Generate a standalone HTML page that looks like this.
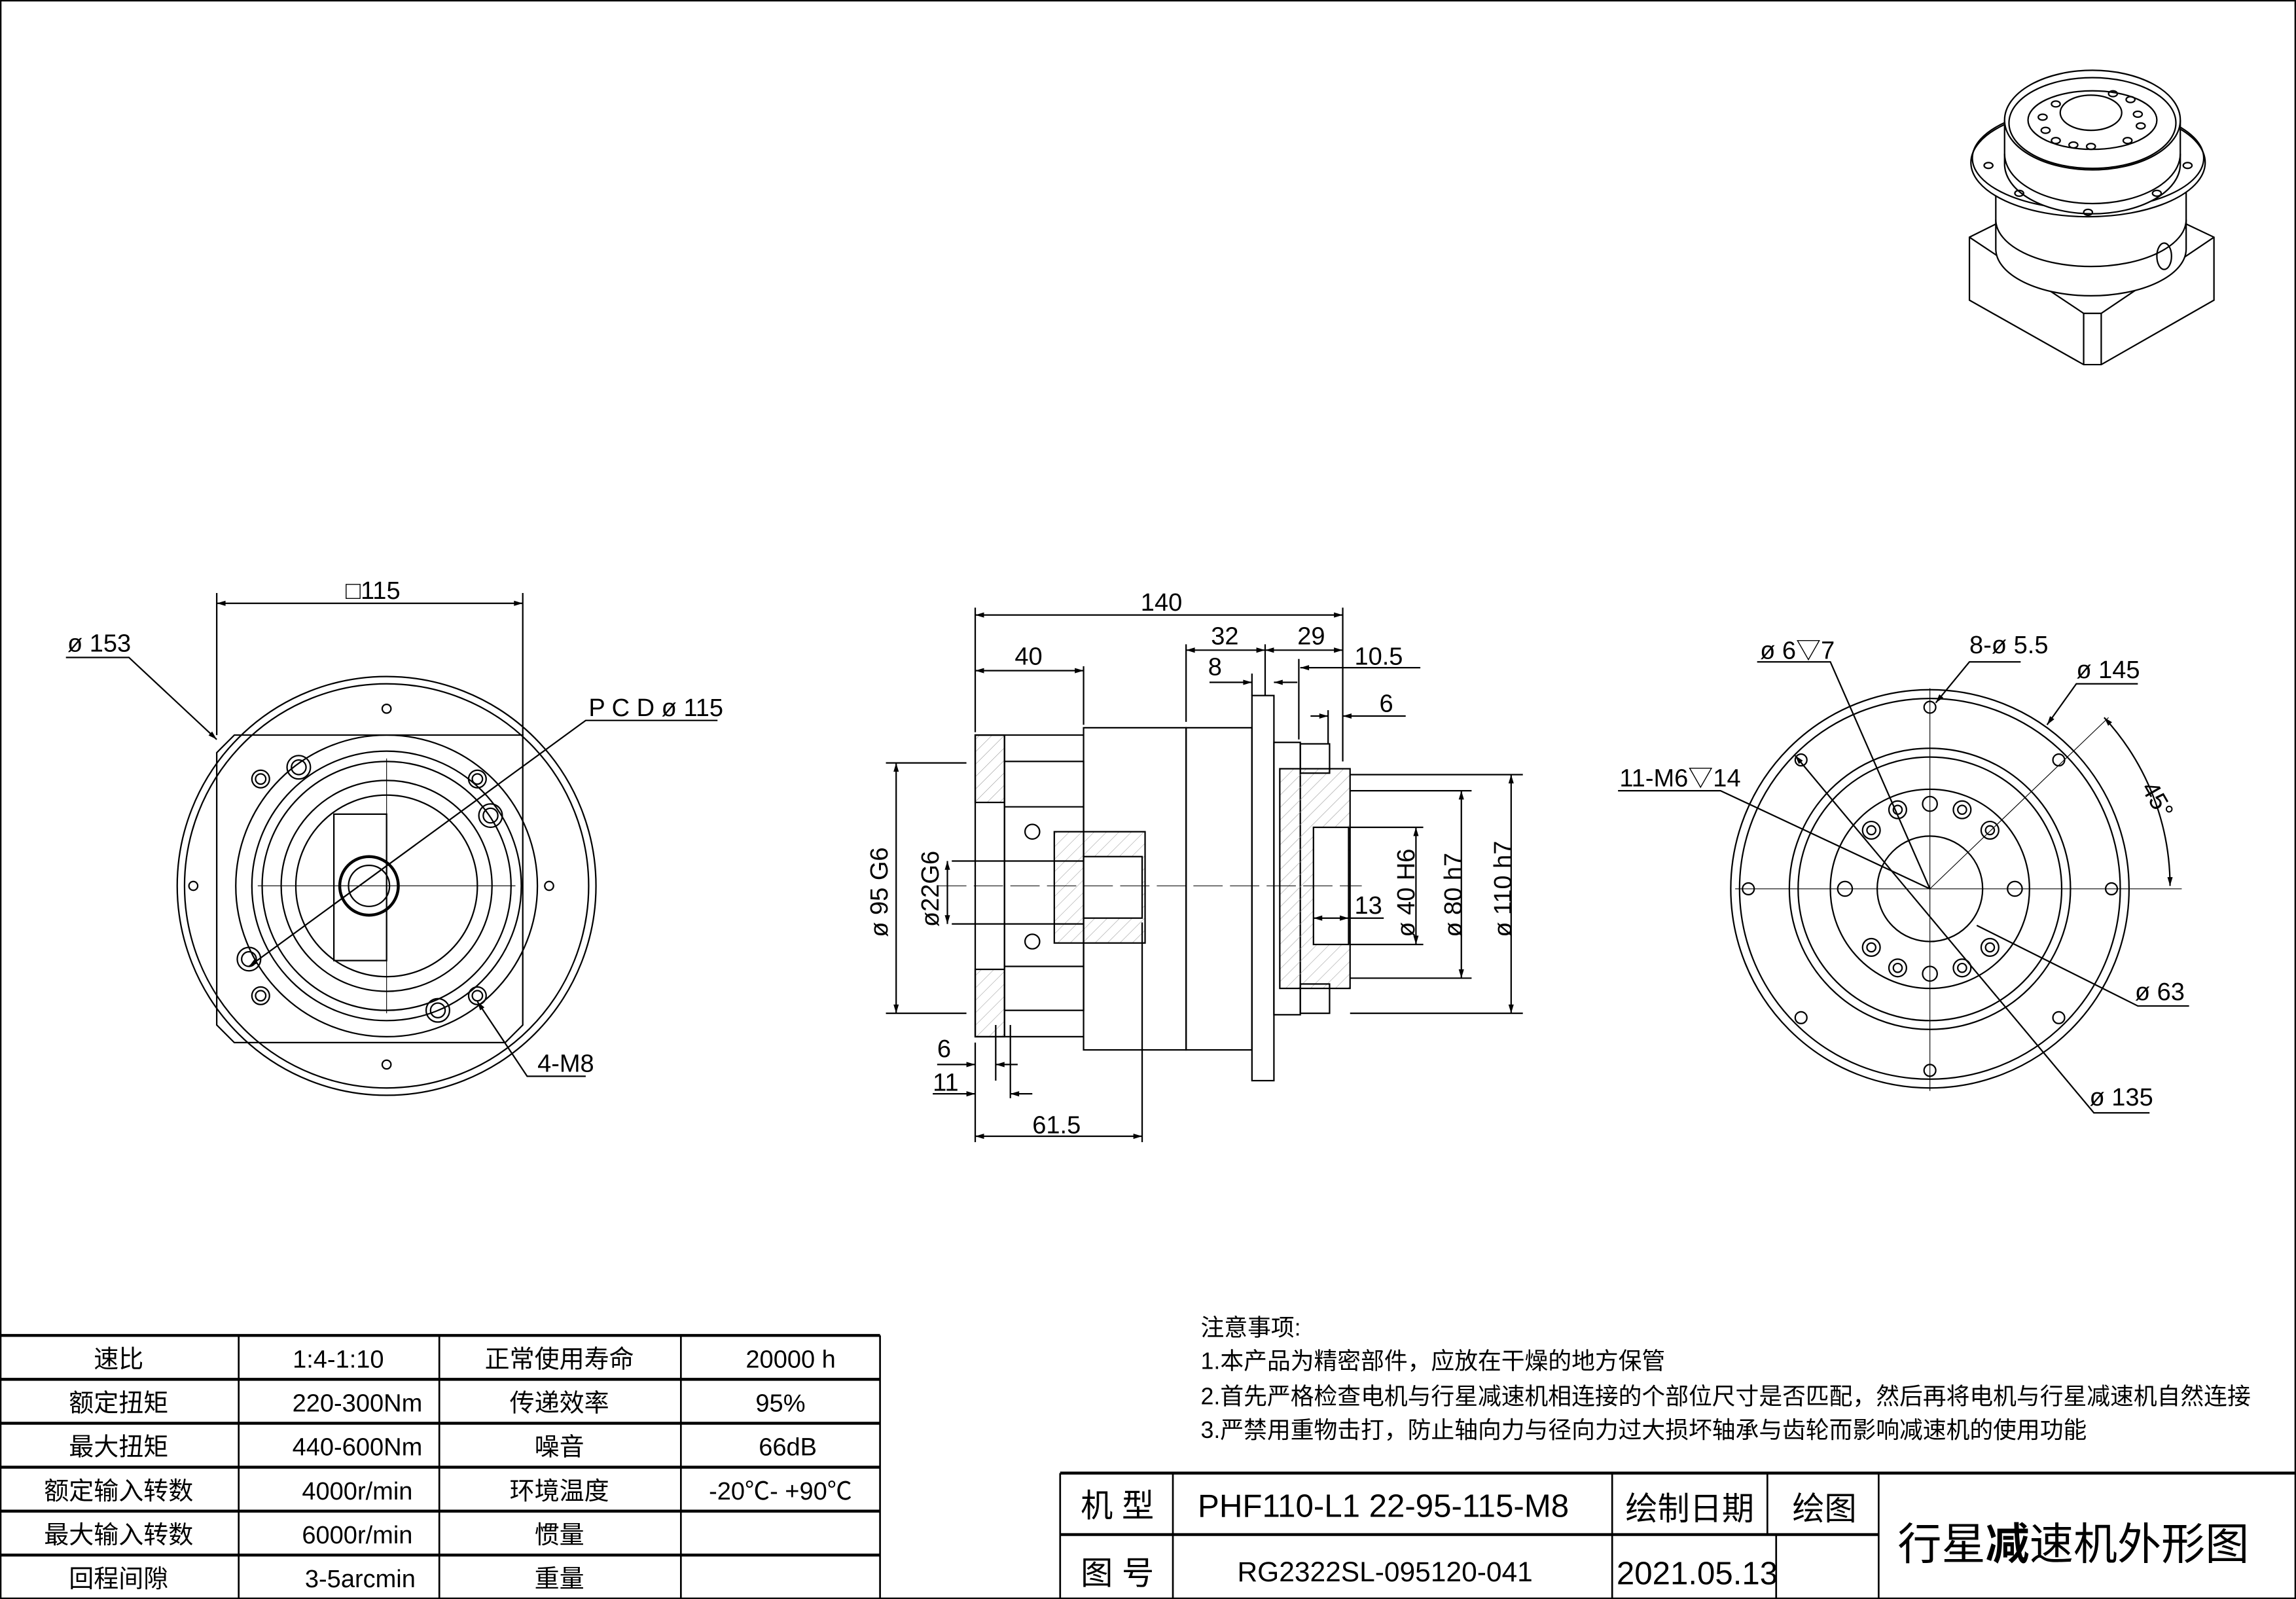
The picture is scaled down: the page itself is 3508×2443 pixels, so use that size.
<!DOCTYPE html>
<html><head><meta charset="utf-8"><style>
html,body{margin:0;padding:0;background:#fff}
svg{display:block}
text{font-family:"Liberation Sans","Noto Sans CJK SC",sans-serif;fill:#000}
</style></head><body>
<svg width="3508" height="2443" viewBox="0 0 1568 1092" xmlns="http://www.w3.org/2000/svg">
<defs>
<pattern id="h" width="6" height="6" patternUnits="userSpaceOnUse" patternTransform="rotate(45)"><line x1="0" y1="0" x2="0" y2="6" stroke="#999" stroke-width="0.5"/></pattern>
<marker id="a" viewBox="0 0 10 10" refX="10" refY="5" markerWidth="8" markerHeight="6" orient="auto-start-reverse"><path d="M0,2 L10,5 L0,8z" fill="#000"/></marker>
</defs>
<rect x="0.5" y="0.5" width="1567" height="1091" fill="none" stroke="#000" stroke-width="1"/>
<g fill="none" stroke="#000" stroke-width="1">

<!-- ===== Left front view ===== -->
<circle cx="264" cy="605" r="143"/>
<circle cx="264" cy="605" r="138"/>
<path d="M160,502 L357,502 L357,700 L345,712 L160,712 L148,700 L148,514z"/>
<circle cx="264" cy="605" r="103"/>
<circle cx="264" cy="605" r="92"/>
<circle cx="264" cy="605" r="85"/>
<circle cx="264" cy="605" r="72"/>
<circle cx="264" cy="605" r="62"/>
<rect x="228" y="556" width="36" height="100"/>
<circle cx="252" cy="605" r="20" stroke-width="2"/>
<circle cx="252" cy="605" r="14"/>
<circle cx="178" cy="532" r="6"/><circle cx="178" cy="532" r="3.5"/>
<circle cx="326" cy="532" r="6"/><circle cx="326" cy="532" r="3.5"/>
<circle cx="178" cy="680" r="6"/><circle cx="178" cy="680" r="3.5"/>
<circle cx="326" cy="680" r="6"/><circle cx="326" cy="680" r="3.5"/>
<circle cx="204" cy="524" r="8"/><circle cx="204" cy="524" r="5"/>
<circle cx="335" cy="557" r="8"/><circle cx="335" cy="557" r="5"/>
<circle cx="170" cy="655" r="8"/><circle cx="170" cy="655" r="5"/>
<circle cx="299" cy="690" r="8"/><circle cx="299" cy="690" r="5"/>
<circle cx="132" cy="605" r="3"/><circle cx="375" cy="605" r="3"/>
<circle cx="264" cy="484" r="3"/><circle cx="264" cy="727" r="3"/>
<line x1="176" y1="605" x2="352" y2="605" stroke-width="0.5"/>
<line x1="264" y1="518" x2="264" y2="692" stroke-width="0.5"/>
<line x1="148" y1="405" x2="148" y2="502"/><line x1="357" y1="405" x2="357" y2="502"/>
<line x1="148" y1="412" x2="357" y2="412" marker-start="url(#a)" marker-end="url(#a)"/>
<polyline points="45,449 88,449 148,505" marker-end="url(#a)"/>
<polyline points="490,492 400,492 170,660" marker-end="url(#a)"/>
<polyline points="400,735 360,735 326,684" marker-end="url(#a)"/>

<!-- ===== Side view ===== -->
<rect x="666" y="502" width="20" height="206" />
<rect x="666" y="502" width="20" height="46" fill="url(#h)"/>
<rect x="666" y="662" width="20" height="46" fill="url(#h)"/>
<polyline points="686,502 740,502"/><polyline points="686,708 740,708"/>
<rect x="686" y="520" width="54" height="170"/>
<line x1="686" y1="660" x2="740" y2="660"/><line x1="686" y1="551" x2="740" y2="551"/>
<rect x="720" y="568" width="62" height="76" fill="url(#h)"/>
<rect x="740" y="585" width="40" height="42" fill="#fff"/>
<polyline points="650,588 740,588"/><polyline points="650,631 740,631"/>
<circle cx="705" cy="568" r="5"/><circle cx="705" cy="643" r="5"/>
<rect x="740" y="497" width="70" height="220"/>
<rect x="810" y="497" width="45" height="220"/>
<rect x="855" y="475" width="15" height="263"/>
<rect x="870" y="507" width="18" height="186"/>
<rect x="874" y="525" width="48" height="150" fill="url(#h)"/>
<rect x="897" y="565" width="24" height="80" fill="#fff"/>
<rect x="888" y="508" width="20" height="20"/><rect x="888" y="672" width="20" height="20"/>
<line x1="640" y1="605" x2="930" y2="605" stroke-width="0.4" stroke-dasharray="20,5"/>
<!-- dims -->
<line x1="666" y1="415" x2="666" y2="500"/><line x1="917" y1="415" x2="917" y2="520"/>
<line x1="666" y1="420" x2="917" y2="420" marker-start="url(#a)" marker-end="url(#a)"/>
<line x1="740" y1="455" x2="740" y2="495"/>
<line x1="666" y1="458" x2="740" y2="458" marker-start="url(#a)" marker-end="url(#a)"/>
<line x1="810" y1="440" x2="810" y2="493"/><line x1="864" y1="440" x2="864" y2="475"/>
<line x1="810" y1="444" x2="864" y2="444" marker-start="url(#a)" marker-end="url(#a)"/>
<line x1="864" y1="444" x2="917" y2="444" marker-start="url(#a)" marker-end="url(#a)"/>
<line x1="826" y1="466" x2="855" y2="466" marker-end="url(#a)"/><line x1="870" y1="466" x2="886" y2="466" marker-start="url(#a)"/>
<line x1="855" y1="460" x2="855" y2="475"/>
<line x1="887" y1="450" x2="887" y2="505"/>
<line x1="888" y1="456" x2="970" y2="456" marker-start="url(#a)"/>
<line x1="907" y1="485" x2="907" y2="508"/>
<line x1="895" y1="489" x2="907" y2="489" marker-end="url(#a)"/><line x1="917" y1="489" x2="960" y2="489" marker-start="url(#a)"/>
<line x1="605" y1="521" x2="660" y2="521"/><line x1="605" y1="692" x2="660" y2="692"/>
<line x1="612" y1="521" x2="612" y2="692" marker-start="url(#a)" marker-end="url(#a)"/>
<line x1="647" y1="588" x2="647" y2="631" marker-start="url(#a)" marker-end="url(#a)"/>
<line x1="922" y1="529" x2="1040" y2="529"/><line x1="922" y1="692" x2="1040" y2="692"/>
<line x1="1032" y1="529" x2="1032" y2="692" marker-start="url(#a)" marker-end="url(#a)"/>
<line x1="922" y1="540" x2="1005" y2="540"/><line x1="922" y1="668" x2="1005" y2="668"/>
<line x1="998" y1="540" x2="998" y2="668" marker-start="url(#a)" marker-end="url(#a)"/>
<line x1="922" y1="565" x2="972" y2="565"/><line x1="922" y1="645" x2="972" y2="645"/>
<line x1="967" y1="565" x2="967" y2="645" marker-start="url(#a)" marker-end="url(#a)"/>
<line x1="897" y1="627" x2="921" y2="627" marker-start="url(#a)" marker-end="url(#a)"/><line x1="921" y1="627" x2="945" y2="627"/>
<line x1="666" y1="712" x2="666" y2="780"/><line x1="680" y1="700" x2="680" y2="738"/><line x1="690" y1="700" x2="690" y2="750"/>
<line x1="640" y1="727" x2="666" y2="727" marker-end="url(#a)"/><line x1="680" y1="727" x2="695" y2="727" marker-start="url(#a)"/>
<line x1="637" y1="747" x2="666" y2="747" marker-end="url(#a)"/><line x1="690" y1="747" x2="705" y2="747" marker-start="url(#a)"/>
<line x1="780" y1="630" x2="780" y2="780"/>
<line x1="666" y1="776" x2="780" y2="776" marker-start="url(#a)" marker-end="url(#a)"/>

<!-- ===== Right view ===== -->
<path d="M1230,518 L1247,502 L1390,502 L1407,518 L1420,518 L1420,690 L1407,690 L1390,710 L1247,710 L1230,690 L1217,690 L1217,518z"/>
<circle cx="1318" cy="607" r="136" fill="#fff"/>
<circle cx="1318" cy="607" r="130"/>
<circle cx="1318" cy="607" r="96"/>
<circle cx="1318" cy="607" r="90"/>
<circle cx="1318" cy="607" r="68"/>
<circle cx="1318" cy="607" r="36"/>
<circle cx="1318" cy="483" r="4"/><circle cx="1318" cy="731" r="4"/><circle cx="1194" cy="607" r="4"/><circle cx="1442" cy="607" r="4"/>
<circle cx="1230" cy="519" r="4"/><circle cx="1406" cy="519" r="4"/><circle cx="1230" cy="695" r="4"/><circle cx="1406" cy="695" r="4"/>
<g>
<circle cx="1318" cy="549" r="5"/><circle cx="1318" cy="665" r="5"/><circle cx="1260" cy="607" r="5"/><circle cx="1376" cy="607" r="5"/>
<circle cx="1296" cy="553" r="6"/><circle cx="1296" cy="553" r="3"/>
<circle cx="1340" cy="553" r="6"/><circle cx="1340" cy="553" r="3"/>
<circle cx="1359" cy="567" r="6"/><circle cx="1359" cy="567" r="3"/>
<circle cx="1278" cy="567" r="6"/><circle cx="1278" cy="567" r="3"/>
<circle cx="1278" cy="647" r="6"/><circle cx="1278" cy="647" r="3"/>
<circle cx="1296" cy="661" r="6"/><circle cx="1296" cy="661" r="3"/>
<circle cx="1340" cy="661" r="6"/><circle cx="1340" cy="661" r="3"/>
<circle cx="1359" cy="647" r="6"/><circle cx="1359" cy="647" r="3"/>
</g>
<line x1="1185" y1="607" x2="1490" y2="607" stroke-width="0.5"/>
<line x1="1318" y1="470" x2="1318" y2="745" stroke-width="0.5"/>
<line x1="1318" y1="607" x2="1440" y2="490" stroke-width="0.5"/>
<path d="M1437,490 A170,170 0 0 1 1482,605" marker-start="url(#a)" marker-end="url(#a)"/>
<polyline points="1200,452 1250,452 1318,607"/>
<polyline points="1380,452 1345,452 1322,480" marker-end="url(#a)"/>
<polyline points="1460,467 1418,467 1398,495" marker-end="url(#a)"/>
<polyline points="1105,540 1175,540 1318,607"/>
<polyline points="1495,687 1460,687 1350,632"/>
<polyline points="1468,760 1430,760 1226,516" marker-end="url(#a)"/>

<!-- ===== 3D ===== -->
<polygon points="1345,162 1363,153 1493,153 1512,162 1512,205 1435,249 1423,249 1345,205" fill="#fff"/>
<polyline points="1345,162 1423,214 1435,214 1512,162"/>
<line x1="1423" y1="214" x2="1423" y2="249"/><line x1="1435" y1="214" x2="1435" y2="249"/>
<path d="M1363,130 L1363,170 A65,32 0 0 0 1493,170 L1493,130" fill="#fff"/>
<path d="M1363,150 A65,32 0 0 0 1493,150"/>
<ellipse cx="1478" cy="175" rx="5" ry="9"/>
<ellipse cx="1426" cy="111" rx="80" ry="37" fill="#fff"/>
<ellipse cx="1426" cy="108" rx="79" ry="35"/>
<path d="M1369,82 L1369,112 A60,34 0 0 0 1489,112 L1489,82" fill="#fff"/>
<path d="M1369,105 A60,34 0 0 0 1489,105"/>
<ellipse cx="1429" cy="82" rx="60" ry="34" fill="#fff"/>
<ellipse cx="1429" cy="84" rx="57" ry="31"/>
<ellipse cx="1429" cy="82" rx="44" ry="20"/>
<ellipse cx="1428" cy="77" rx="21" ry="12"/>
<ellipse cx="1404" cy="71" rx="3" ry="2"/><ellipse cx="1443" cy="64" rx="3" ry="2"/><ellipse cx="1455" cy="68" rx="3" ry="2"/>
<ellipse cx="1395" cy="80" rx="3" ry="2"/><ellipse cx="1460" cy="78" rx="3" ry="2"/><ellipse cx="1462" cy="86" rx="3" ry="2"/>
<ellipse cx="1397" cy="89" rx="3" ry="2"/><ellipse cx="1404" cy="96" rx="3" ry="2"/><ellipse cx="1416" cy="99" rx="3" ry="2"/>
<ellipse cx="1428" cy="100" rx="3" ry="2"/><ellipse cx="1453" cy="96" rx="3" ry="2"/>
<ellipse cx="1358" cy="113" rx="3" ry="2"/><ellipse cx="1494" cy="113" rx="3" ry="2"/>
<ellipse cx="1379" cy="132" rx="3" ry="2"/><ellipse cx="1473" cy="132" rx="3" ry="2"/><ellipse cx="1426" cy="145" rx="3" ry="2"/>

<!-- ===== table ===== -->
<g stroke-width="1.2">
<line x1="0" y1="912" x2="601" y2="912" stroke-width="2"/>
<line x1="0" y1="942" x2="601" y2="942" stroke-width="2"/>
<line x1="0" y1="972" x2="601" y2="972" stroke-width="2"/>
<line x1="0" y1="1002" x2="601" y2="1002" stroke-width="2"/>
<line x1="0" y1="1032" x2="601" y2="1032" stroke-width="2"/>
<line x1="0" y1="1062" x2="601" y2="1062" stroke-width="2"/>
<line x1="163" y1="912" x2="163" y2="1092"/><line x1="300" y1="912" x2="300" y2="1092"/>
<line x1="465" y1="912" x2="465" y2="1092"/><line x1="601" y1="912" x2="601" y2="1092"/>
<line x1="724" y1="1006" x2="1568" y2="1006" stroke-width="2"/>
<line x1="724" y1="1048" x2="1283" y2="1048" stroke-width="2"/>
<line x1="724" y1="1006" x2="724" y2="1092"/><line x1="801" y1="1006" x2="801" y2="1092"/>
<line x1="1101" y1="1006" x2="1101" y2="1092"/><line x1="1207" y1="1006" x2="1207" y2="1048"/>
<line x1="1213" y1="1048" x2="1213" y2="1092"/>
<line x1="1283" y1="1006" x2="1283" y2="1092"/>
</g>
</g>

<!-- labels -->
<g font-size="17">
<text x="236" y="409">□115</text>
<text x="46" y="445">ø 153</text>
<text x="402" y="489">P C D ø 115</text>
<text x="367" y="732">4-M8</text>
<text x="779" y="417">140</text>
<text x="693" y="454">40</text>
<text x="827" y="440">32</text>
<text x="886" y="440">29</text>
<text x="825" y="461">8</text>
<text x="925" y="454">10.5</text>
<text x="942" y="486">6</text>
<text x="925" y="624">13</text>
<text x="640" y="722">6</text>
<text x="637" y="745">11</text>
<text x="705" y="774">61.5</text>
<text transform="translate(606,640) rotate(-90)">ø 95 G6</text>
<text transform="translate(641,633) rotate(-90)">ø22G6</text>
<text transform="translate(966,640) rotate(-90)">ø 40 H6</text>
<text transform="translate(998,640) rotate(-90)">ø 80 h7</text>
<text transform="translate(1032,640) rotate(-90)">ø 110 h7</text>
<text x="1202" y="450">ø 6▽7</text>
<text x="1345" y="446">8-ø 5.5</text>
<text x="1418" y="463">ø 145</text>
<text x="1106" y="537">11-M6▽14</text>
<text x="1458" y="683">ø 63</text>
<text x="1427" y="755">ø 135</text>
<text transform="translate(1462,538) rotate(60)">45°</text>
</g>
<g font-size="16">
<text x="820" y="912">注意事项:</text>
<text x="820" y="935">1.本产品为精密部件，应放在干燥的地方保管</text>
<text x="820" y="959">2.首先严格检查电机与行星减速机相连接的个部位尺寸是否匹配，然后再将电机与行星减速机自然连接</text>
<text x="820" y="982">3.严禁用重物击打，防止轴向力与径向力过大损坏轴承与齿轮而影响减速机的使用功能</text>
</g>
<g font-size="17" text-anchor="middle">
<text x="81" y="934">速比</text><text x="231" y="934">1:4-1:10</text><text x="382" y="934">正常使用寿命</text><text x="540" y="934">20000 h</text>
<text x="81" y="964">额定扭矩</text><text x="244" y="964">220-300Nm</text><text x="382" y="964">传递效率</text><text x="533" y="964">95%</text>
<text x="81" y="994">最大扭矩</text><text x="244" y="994">440-600Nm</text><text x="382" y="994">噪音</text><text x="538" y="994">66dB</text>
<text x="81" y="1024">额定输入转数</text><text x="244" y="1024">4000r/min</text><text x="382" y="1024">环境温度</text><text x="533" y="1024">-20℃- +90℃</text>
<text x="81" y="1054">最大输入转数</text><text x="244" y="1054">6000r/min</text><text x="382" y="1054">惯量</text>
<text x="81" y="1084">回程间隙</text><text x="246" y="1084">3-5arcmin</text><text x="382" y="1084">重量</text>
</g>
<g font-size="22">
<text x="738" y="1036">机 型</text>
<text x="818" y="1036">PHF110-L1 22-95-115-M8</text>
<text x="1110" y="1038">绘制日期</text>
<text x="1224" y="1038">绘图</text>
<text x="738" y="1082">图 号</text>
<text x="845" y="1080" font-size="19">RG2322SL-095120-041</text>
<text x="1104" y="1082">2021.05.13</text>
<text x="1296" y="1065" font-size="30">行星<tspan font-weight="bold">减</tspan>速机外形图</text>
</g>
</svg>
</body></html>
